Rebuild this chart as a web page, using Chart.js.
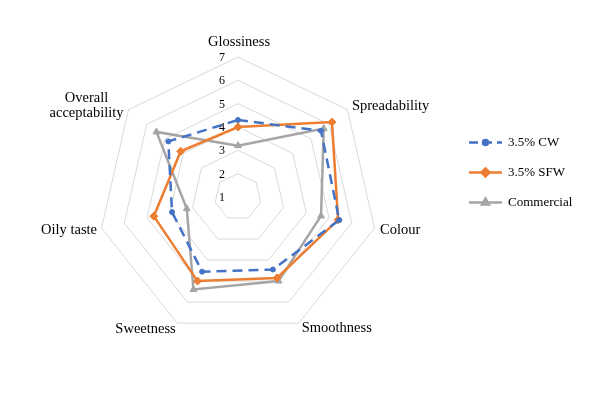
<!DOCTYPE html>
<html>
<head>
<meta charset="utf-8">
<script src="https://cdn.jsdelivr.net/npm/chart.js@4/dist/chart.umd.min.js"></script>
<style>
  html, body { margin: 0; padding: 0; background: #ffffff; }
  #wrap { width: 601px; height: 396px; }
</style>
</head>
<body>
<div id="wrap"><canvas id="c" width="601" height="396"></canvas></div>
<script>
const categories = ["Glossiness", "Spreadability", "Colour", "Smoothness", "Sweetness", "Oily taste", ["Overall", "acceptability"]];
const seriesNames = ["3.5% CW", "3.5% SFW", "Commercial"];
const cwValues = [4.3, 5.55, 5.45, 4.45, 4.55, 3.9, 4.82];
const sfwValues = [4.0, 6.15, 5.4, 4.85, 5.0, 4.7, 4.14];
const commercialValues = [3.2, 5.7, 4.65, 5.0, 5.4, 3.25, 5.47];
const tickValues = [1, 2, 3, 4, 5, 6, 7];

const colors = ["#4472C4", "#ED7D31", "#A5A5A5"];
const pointStyles = ["circle", "rectRot", "triangle"];
const pointRadii = [2.5, 4, 4];
const dashes = [[10, 6], [], []];
const serif = "'Liberation Serif', 'Times New Roman', serif";

const labelPlugin = {
  id: 'customLabels',
  afterDraw(chart) {
    const ctx = chart.ctx;
    const r = chart.scales.r;
    const cx = r.xCenter, cy = r.yCenter;
    ctx.save();
    // tick labels
    ctx.fillStyle = '#000';
    ctx.font = "12px " + serif;
    ctx.textAlign = 'center';
    ctx.textBaseline = 'middle';
    tickValues.forEach(v => {
      const d = r.getDistanceFromCenterForValue(v);
      ctx.fillText(String(v), cx - 16, cy - d + 1);
    });
    // point labels
    ctx.font = "14.5px " + serif;
    const R = r.drawingArea;
    const specs = [
      {dx: 1, dy: -15, align: 'center'},
      {dx: 4.5, dy: -3.5, align: 'left'},
      {dx: 5.5, dy: 2.5, align: 'left'},
      {dx: 3, dy: 5, align: 'left'},
      {dx: -1.5, dy: 6, align: 'right'},
      {dx: -4.5, dy: 2, align: 'right'},
      {dx: -42, dy: -4, align: 'center'}
    ];
    categories.forEach((lab, i) => {
      const p = r.getPointPosition(i, R);
      const s = specs[i];
      ctx.textAlign = s.align;
      const lines = Array.isArray(lab) ? lab : [lab];
      const lh = 15;
      const y0 = p.y + s.dy - (lines.length - 1) * lh / 2;
      lines.forEach((ln, k) => ctx.fillText(ln, p.x + s.dx, y0 + k * lh));
    });
    // legend
    ctx.font = "13px " + serif;
    ctx.textAlign = 'left';
    const rowsY = [142.5, 172.5, 202.5];
    seriesNames.forEach((name, i) => {
      const y = rowsY[i];
      ctx.strokeStyle = colors[i];
      ctx.lineWidth = 2.5;
      ctx.setLineDash(i === 0 ? [9, 5] : []);
      ctx.beginPath();
      ctx.moveTo(469, y);
      ctx.lineTo(502, y);
      ctx.stroke();
      ctx.setLineDash([]);
      Chart.helpers.drawPoint(ctx, {
        pointStyle: pointStyles[i], radius: pointRadii[i], rotation: 0, borderWidth: 1
      }, 485.5, y);
      ctx.fillStyle = colors[i];
      ctx.fill();
      ctx.fillStyle = '#000';
      ctx.fillText(name, 508, y + 0.5);
    });
    ctx.restore();
  }
};

const dataArrays = [cwValues, sfwValues, commercialValues];
new Chart(document.getElementById('c'), {
  type: 'radar',
  data: {
    labels: categories,
    datasets: seriesNames.map((name, i) => ({
      label: name,
      data: dataArrays[i],
      borderColor: colors[i],
      backgroundColor: colors[i],
      borderWidth: 2.5,
      borderDash: dashes[i],
      fill: false,
      pointStyle: pointStyles[i],
      pointRadius: pointRadii[i],
      pointBackgroundColor: colors[i],
      pointBorderColor: colors[i],
      pointBorderWidth: 1,
      tension: 0
    }))
  },
  options: {
    responsive: false,
    animation: false,
    layout: { padding: { left: 98, top: 57, right: 223, bottom: 59 } },
    plugins: { legend: { display: false }, tooltip: { enabled: false } },
    scales: {
      r: {
        min: 1,
        max: 7,
        ticks: { stepSize: 1, display: false },
        pointLabels: { display: false },
        angleLines: { display: false },
        grid: { color: '#D9D9D9', lineWidth: 1 }
      }
    }
  },
  plugins: [labelPlugin]
});
</script>
</body>
</html>
